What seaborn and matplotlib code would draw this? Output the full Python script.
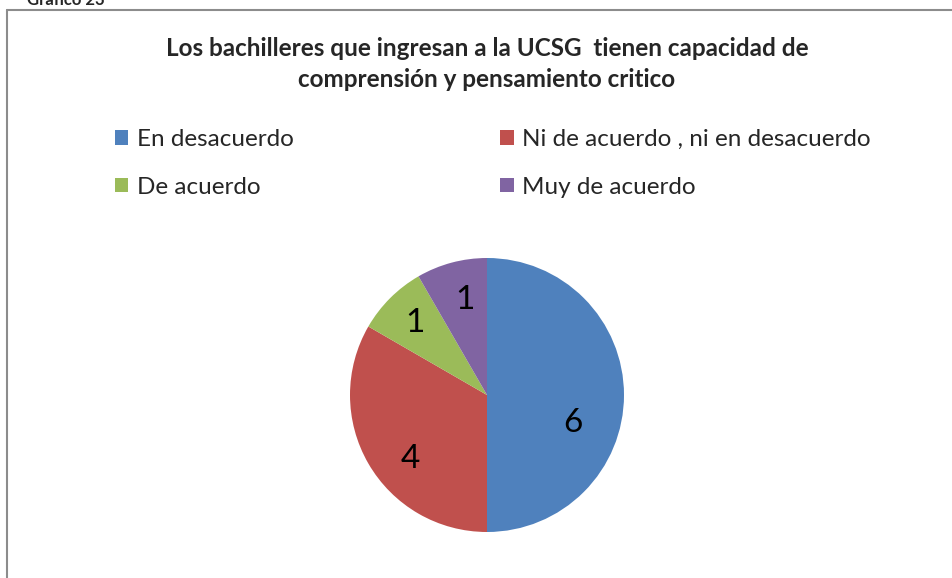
import numpy as np
import matplotlib
matplotlib.use("Agg")
import matplotlib.pyplot as plt
from matplotlib.lines import Line2D
from matplotlib.patches import Patch
import seaborn as sns

categories = ["En desacuerdo", "Ni de acuerdo , ni en desacuerdo", "De acuerdo", "Muy de acuerdo"]
values = [6, 4, 1, 1]
colors = ["#4F81BD", "#C0504D", "#9BBB59", "#8064A2"]
title = "Los bachilleres que ingresan a la UCSG  tienen capacidad de\ncomprensión y pensamiento critico"

sns.set_theme(style="white")
plt.rcParams['font.family'] = ['Lato', 'DejaVu Sans']

W, H = 953, 578
fig = plt.figure(figsize=(W / 100, H / 100), dpi=100)

# frame lines
fig.add_artist(Line2D([7 / W, 7 / W], [0, 1 - 10 / H], color="#8C8C8C", lw=1.5, transform=fig.transFigure))
fig.add_artist(Line2D([7 / W, 1], [1 - 10 / H, 1 - 10 / H], color="#8C8C8C", lw=1.5, transform=fig.transFigure))
fig.text(27 / W, 1 - 5 / H, "Gráfico 23", fontsize=12, fontweight="bold", ha="left", va="baseline")

fig.text(487 / W, 1 - 64 / H, title, fontsize=17.5, fontweight="bold", ha="center", va="center",
         linespacing=1.45)

# pie axes: center (487,395), radius 137
cx, cy, r = 487, 395, 137
ax = fig.add_axes([(cx - r) / W, (H - cy - r) / H, 2 * r / W, 2 * r / H])
wedges, _ = ax.pie(values, colors=colors, startangle=90, counterclock=False, radius=1,
                   wedgeprops=dict(linewidth=0))
ax.set_xlim(-1, 1)
ax.set_ylim(-1, 1)
ax.set_aspect("equal")
ax.axis("off")

dists = [0.66, 0.73, 0.74, 0.71]
offsets = [-18, 10, 0, -2]
for w, v, d, o in zip(wedges, values, dists, offsets):
    th = np.deg2rad((w.theta1 + w.theta2) / 2 + o)
    ax.text(d * np.cos(th), d * np.sin(th), str(v), fontsize=24, ha="center", va="center", color="black")

# legend (row-major order like the reference)
order = [0, 2, 1, 3]
handles = [Patch(facecolor=colors[i], edgecolor="none") for i in order]
labels = [categories[i] for i in order]
leg = fig.legend(handles, labels, loc="upper left", bbox_to_anchor=(93 / W, 1 - 107 / H),
                 ncol=2, frameon=False, fontsize=17.5, handlelength=0.55, handleheight=0.55,
                 handletextpad=0.35, columnspacing=8.5, labelspacing=1.1)

fig.savefig("out.png", dpi=100, facecolor="white")
